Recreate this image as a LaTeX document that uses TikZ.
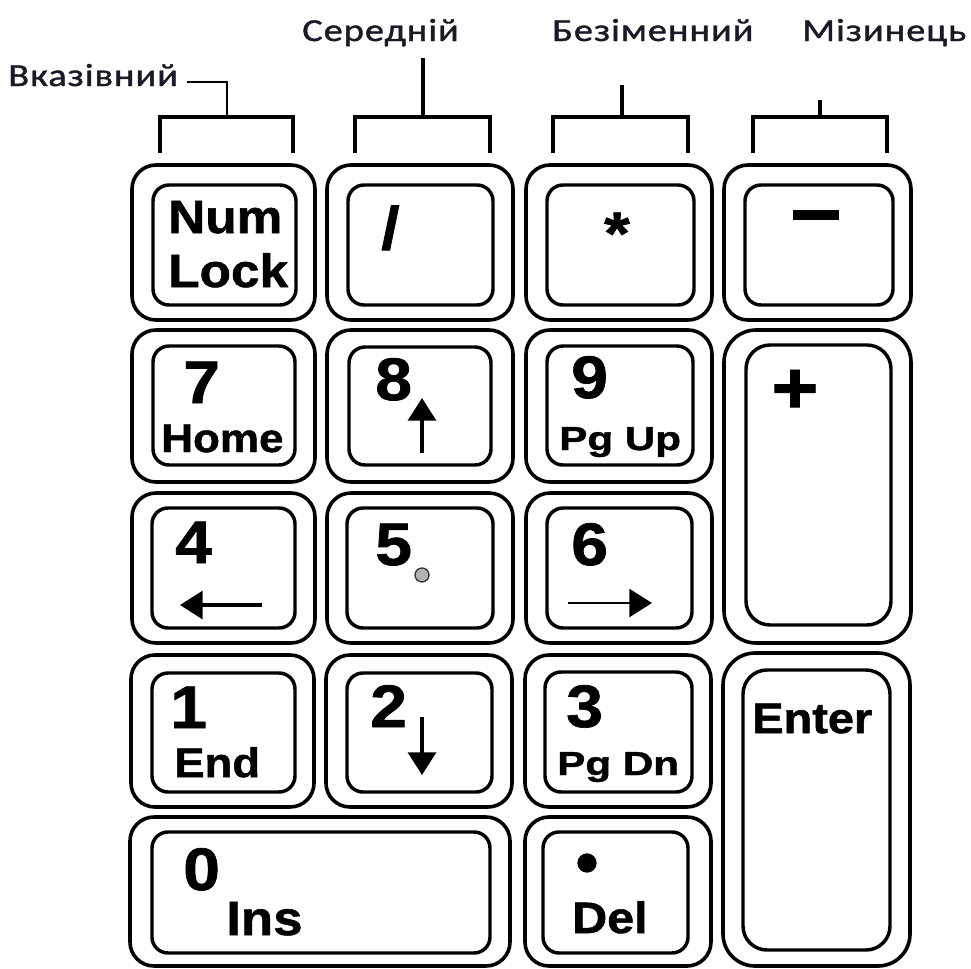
\documentclass[tikz,border=0pt]{standalone}
\usepackage{fontspec}
\usetikzlibrary{arrows.meta}
\newfontfamily\kf[FakeStretch=1.1,FakeBold=1.2]{Liberation Sans Bold}
\newfontfamily\lf[FakeStretch=1.2,FakeBold=1.2,LetterSpace=3]{Carlito}
\definecolor{lab}{RGB}{25,25,40}
\begin{document}
\begin{tikzpicture}[x=0.75pt,y=-0.75pt,
  outerkey/.style={line width=2.7pt, rounded corners=18pt},
  innerkey/.style={line width=2.6pt, rounded corners=12pt},
  tallouter/.style={line width=2.7pt, rounded corners=24pt},
  tallinner/.style={line width=2.6pt, rounded corners=18pt},
  bracket/.style={line width=3pt},
  thinstem/.style={line width=1.8pt},
  lbl/.style={anchor=base west, inner sep=0pt, font=\lf\fontsize{24pt}{24pt}\selectfont, text=lab},
  dig/.style={anchor=base west, inner sep=0pt, font=\kf\fontsize{45pt}{45pt}\selectfont},
  word/.style={anchor=base west, inner sep=0pt, font=\kf\fontsize{31pt}{31pt}\selectfont},
  keyarrow/.style={line width=2.4pt, -{Triangle[length=17pt,width=21pt]}}
]
\useasboundingbox[fill=white] (0,0) rectangle (971,968);

% ---------- finger labels and brackets ----------
\node[lbl] (vk) at (8,86) {Вказівний};
\node[lbl] (sr) at (302,41) {Середній};
\node[lbl] (bz) at (552,41) {Безіменний};
\node[lbl] (mz) at (802,41) {Мізинець};

\coordinate (vkL) at (160,153); \coordinate (vkR) at (293,153);
\coordinate (vkM) at (227,117); \coordinate (vkT) at (187,82);
\draw[bracket] (vkL) |- (vkM) -| (vkR);
\draw[thinstem] (vkM) |- (vkT);

\coordinate (srL) at (355,153); \coordinate (srR) at (490,153);
\coordinate (srM) at (423,117); \coordinate (srT) at (423,58);
\draw[bracket] (srL) |- (srM) -| (srR);
\draw[bracket] (srM) -- (srT);

\coordinate (bzL) at (553,153); \coordinate (bzR) at (688,153);
\coordinate (bzM) at (622,117); \coordinate (bzT) at (622,85);
\draw[bracket] (bzL) |- (bzM) -| (bzR);
\draw[bracket] (bzM) -- (bzT);

\coordinate (mzL) at (753,153); \coordinate (mzR) at (887,153);
\coordinate (mzM) at (820,117); \coordinate (mzT) at (820,100);
\draw[bracket] (mzL) |- (mzM) -| (mzR);
\draw[bracket] (mzM) -- (mzT);

% ---------- key outlines ----------
% row 1
\draw[outerkey] (132,165) rectangle (315,320); \draw[innerkey] (153,185) rectangle (296,305);
\draw[outerkey] (327,165) rectangle (513,320); \draw[innerkey] (348,185) rectangle (493,305);
\draw[outerkey] (526,165) rectangle (712,320); \draw[innerkey] (547,185) rectangle (694,305);
\draw[outerkey] (724,165) rectangle (911,320); \draw[innerkey] (745,185) rectangle (893,305);
% row 2
\draw[outerkey] (132,330) rectangle (315,482); \draw[innerkey] (153,346) rectangle (295,465);
\draw[outerkey] (327,330) rectangle (513,482); \draw[innerkey] (349,347) rectangle (491,465);
\draw[outerkey] (526,330) rectangle (712,482); \draw[innerkey] (547,346) rectangle (693,465);
\draw[tallouter] (724,330) rectangle (911,643); \draw[tallinner] (746,345) rectangle (891,625);
% row 3
\draw[outerkey] (132,493) rectangle (315,643); \draw[innerkey] (152,508) rectangle (295,628);
\draw[outerkey] (327,493) rectangle (513,643); \draw[innerkey] (347,508) rectangle (493,628);
\draw[outerkey] (526,493) rectangle (712,643); \draw[innerkey] (547,508) rectangle (692,628);
% row 4
\draw[outerkey] (131,655) rectangle (314,807); \draw[innerkey] (152,673) rectangle (295,792);
\draw[outerkey] (326,655) rectangle (512,807); \draw[innerkey] (347,673) rectangle (492,792);
\draw[outerkey] (525,655) rectangle (711,807); \draw[innerkey] (545,672) rectangle (692,792);
\draw[tallouter] (723,653) rectangle (910,966); \draw[tallinner] (743,670) rectangle (890,950);
% row 5
\draw[outerkey] (130,817) rectangle (510,966); \draw[innerkey] (152,832) rectangle (490,953);
\draw[outerkey] (525,817) rectangle (711,966); \draw[innerkey] (543,832) rectangle (688,953);

% ---------- legends ----------
\node[word, font=\kf\fontsize{35pt}{35pt}\selectfont] (numa) at (168,233) {Num};
\node[word, font=\kf\fontsize{35pt}{35pt}\selectfont] (numb) at (168,287) {Lock};
\node[dig] (slash) at (381,249) {/};
\node[dig, anchor=base] (star) at (617,254) {*};
\node[dig, anchor=base, font=\kf\fontsize{61pt}{61pt}\selectfont] (minus) at (816,242) {−};

\node[dig] (d7) at (183,403) {7};
\node[word, font=\kf\fontsize{30pt}{30pt}\selectfont] (home) at (161,452) {Home};
\node[dig] (d8) at (375,400) {8};
\coordinate (upA) at (422,453); \coordinate (upB) at (422,398);
\draw[keyarrow] (upA) -- (upB);
\node[dig] (d9) at (571,398) {9};
\node[word, font=\kf\fontsize{25pt}{25pt}\selectfont] (pgup) at (559,450) {\scalebox{1.15}[1]{Pg Up}};
\node[dig, anchor=base, font=\kf\fontsize{55pt}{55pt}\selectfont] (plus) at (795,413) {+};

\node[dig] (d4) at (175,563) {4};
\coordinate (lfA) at (262,605); \coordinate (lfB) at (180,605);
\draw[keyarrow] (lfA) -- (lfB);
\node[dig] (d5) at (375,565) {5};
\node[circle, draw=gray!40!black, fill=gray!60, line width=1pt, minimum size=10.5pt, inner sep=0pt] (dot5) at (422,575) {};
\node[dig] (d6) at (571,565) {6};
\coordinate (rtA) at (568,603); \coordinate (rtB) at (652,603);
\draw[keyarrow, line width=1.6pt] (rtA) -- (rtB);

\node[dig] (d1) at (170,728) {1};
\node[word] (endk) at (174,777) {End};
\node[dig] (d2) at (370,727) {2};
\coordinate (dnA) at (422,717); \coordinate (dnB) at (422,775);
\draw[keyarrow] (dnA) -- (dnB);
\node[dig] (d3) at (566,727) {3};
\node[word, font=\kf\fontsize{25pt}{25pt}\selectfont] (pgdn) at (557,775) {\scalebox{1.15}[1]{Pg Dn}};
\node[word, font=\kf\fontsize{32pt}{32pt}\selectfont] (enter) at (752,733) {Enter};

\node[dig] (d0) at (183,890) {0};
\node[word, font=\kf\fontsize{36pt}{36pt}\selectfont] (ins) at (226,935) {Ins};
\node[circle, fill=black, minimum size=14.5pt, inner sep=0pt] (dotk) at (587,863) {};
\node[word, font=\kf\fontsize{33pt}{33pt}\selectfont] (del) at (572,933) {Del};
\end{tikzpicture}
\end{document}
